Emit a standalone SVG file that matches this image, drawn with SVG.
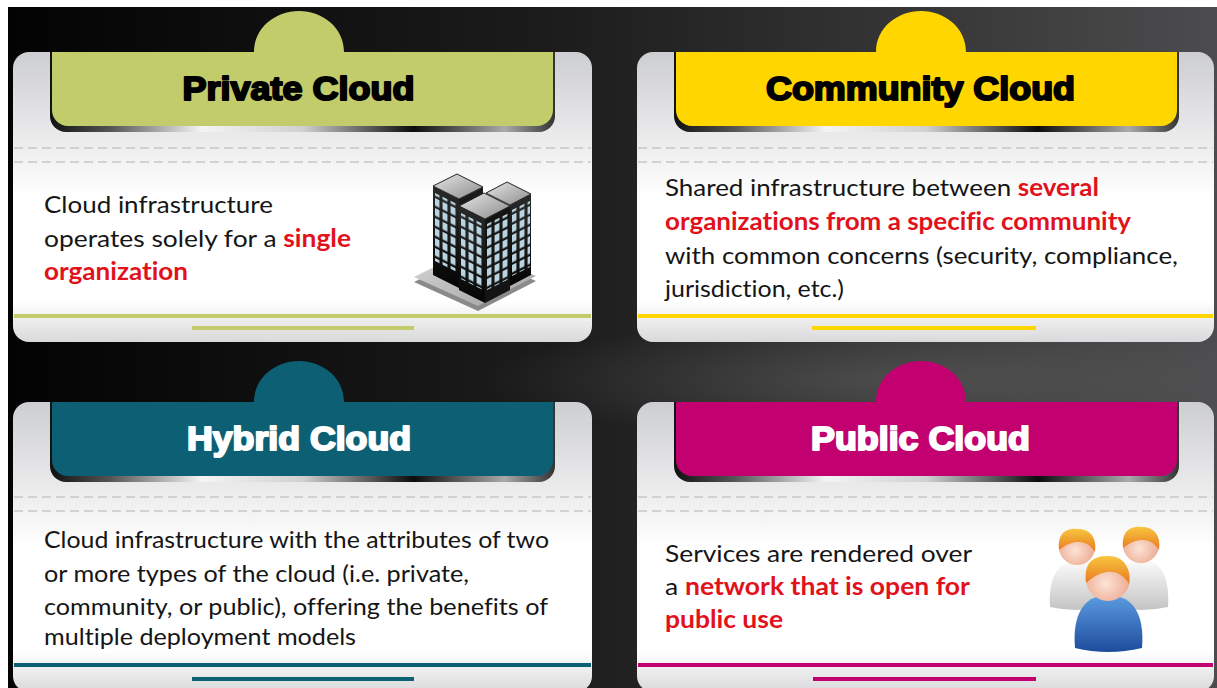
<svg xmlns="http://www.w3.org/2000/svg" width="1217" height="688" viewBox="0 0 1217 688">
  <defs>
    <linearGradient id="bg" x1="0" y1="0" x2="1" y2="0">
      <stop offset="0" stop-color="#030303"/>
      <stop offset="0.45" stop-color="#1c1c1c"/>
      <stop offset="1" stop-color="#4c4c4e"/>
    </linearGradient>
    <radialGradient id="haze" cx="0.5" cy="0.5" r="0.5">
      <stop offset="0" stop-color="#6a6a6a" stop-opacity="0.45"/>
      <stop offset="1" stop-color="#6a6a6a" stop-opacity="0"/>
    </radialGradient>
    <linearGradient id="cardFill" x1="0" y1="0" x2="0" y2="1">
      <stop offset="0" stop-color="#cdced1"/>
      <stop offset="0.33" stop-color="#eeeeef"/>
      <stop offset="0.5" stop-color="#ffffff"/>
      <stop offset="0.86" stop-color="#ffffff"/>
      <stop offset="1" stop-color="#d9d9db"/>
    </linearGradient>
    <linearGradient id="tabShadow" x1="0" y1="0" x2="1" y2="0">
      <stop offset="0" stop-color="#111"/>
      <stop offset="0.12" stop-color="#555"/>
      <stop offset="0.3" stop-color="#f4f4f4"/>
      <stop offset="0.5" stop-color="#d0d0d0"/>
      <stop offset="0.72" stop-color="#0c0c0c"/>
      <stop offset="0.9" stop-color="#aaa"/>
      <stop offset="1" stop-color="#333"/>
    </linearGradient>
    <linearGradient id="roofFill" x1="0" y1="0" x2="1" y2="1">
      <stop offset="0" stop-color="#e6e6e6"/>
      <stop offset="1" stop-color="#8c8c8c"/>
    </linearGradient>
    <linearGradient id="wallDark" x1="0" y1="0" x2="0" y2="1">
      <stop offset="0" stop-color="#2a2a2a"/>
      <stop offset="1" stop-color="#050505"/>
    </linearGradient>
    <linearGradient id="plateFill" x1="0" y1="0" x2="1" y2="1">
      <stop offset="0" stop-color="#d8d8d8"/>
      <stop offset="1" stop-color="#a0a0a0"/>
    </linearGradient>
    <pattern id="win" width="8" height="10" patternUnits="userSpaceOnUse">
      <rect x="1.5" y="1" width="5" height="7.5" fill="#b9d4de"/>
    </pattern>
    <radialGradient id="skin" cx="0.45" cy="0.6" r="0.6">
      <stop offset="0" stop-color="#fde3d6"/>
      <stop offset="1" stop-color="#eaa58c"/>
    </radialGradient>
    <linearGradient id="hair" x1="0" y1="0" x2="0" y2="1">
      <stop offset="0" stop-color="#f8c640"/>
      <stop offset="1" stop-color="#e8781e"/>
    </linearGradient>
    <linearGradient id="shirtWhite" x1="0" y1="0" x2="0" y2="1">
      <stop offset="0" stop-color="#fafafa"/>
      <stop offset="1" stop-color="#c4c4c4"/>
    </linearGradient>
    <linearGradient id="shirtBlue" x1="0" y1="0" x2="0" y2="1">
      <stop offset="0" stop-color="#5b9be0"/>
      <stop offset="1" stop-color="#1d4c9c"/>
    </linearGradient>
    <style>
      .card { fill: url(#cardFill); }
      .dash { stroke: #c8c8c8; stroke-width: 1.5; stroke-dasharray: 9 5; fill: none; }
      .shadow { fill: url(#tabShadow); }
      .title { font-family: "Liberation Sans", Arial, sans-serif; font-weight: bold; font-size: 33px; text-anchor: middle; stroke-width: 2; stroke-linejoin: round; }
      .body { font-family: Lato, "Open Sans", sans-serif; font-size: 24px; fill: #151515; font-variant-ligatures: none; font-feature-settings: "liga" 0, "clig" 0; }
      .hl { fill: #e1121b; font-weight: bold; }
    </style>
  </defs>

  <!-- backdrop -->
  <rect x="0" y="0" width="1217" height="688" fill="#ffffff"/>
  <rect x="8" y="7" width="1209" height="681" fill="url(#bg)"/>
  <ellipse cx="900" cy="380" rx="420" ry="60" fill="url(#haze)"/>

  <!-- Private Cloud -->
  <g id="private-cloud">
    <rect class="card" x="13" y="52" width="579" height="290" rx="16"/>
    <path class="shadow" d="M50,52 H555 V116 a16,16 0 0 1 -16,16 H66 a16,16 0 0 1 -16,-16 Z"/>
    <path fill="#c3cc6a" d="M52,52 H254 C254,28 275,11 299,11 C323,11 344,28 344,52 H553 V110 a16,16 0 0 1 -16,16 H68 a16,16 0 0 1 -16,-16 Z"/>
    <text class="title" x="298.5" y="100" fill="#000" stroke="#000" textLength="232" lengthAdjust="spacingAndGlyphs">Private Cloud</text>
    <line class="dash" x1="14" y1="148" x2="591" y2="148"/>
    <line class="dash" x1="14" y1="162" x2="591" y2="162"/>
    <text class="body" x="44" y="213" textLength="229" lengthAdjust="spacingAndGlyphs">Cloud infrastructure</text>
    <text class="body" x="44" y="247" textLength="307" lengthAdjust="spacingAndGlyphs">operates solely for a <tspan class="hl">single</tspan></text>
    <text class="body hl" x="44" y="280" textLength="144" lengthAdjust="spacingAndGlyphs">organization</text>
    <!-- office towers -->
    <g id="building">
      <polygon points="414,282 472,253 536,281 478,311" fill="#8a8a8a"/>
      <polygon points="414,277 472,248 536,276 478,306" fill="url(#plateFill)"/>
      <!-- back left tower -->
      <polygon points="433,186 459,199 459,288 433,275" fill="url(#wallDark)"/>
      <g transform="matrix(1,0.5,0,1,433,186)"><rect x="2" y="6" width="22" height="68" fill="url(#win)"/></g>
      <polygon points="459,199 483,187 483,260 459,272" fill="#1a1a1a"/>
      <polygon points="433,186 457,174 483,187 459,199" fill="url(#roofFill)" stroke="#222" stroke-width="1"/>
      <!-- back right tower -->
      <polygon points="510,205 531,194 531,275 510,286" fill="url(#wallDark)"/>
      <g transform="matrix(1,-0.5,0,1,510,205)"><rect x="2" y="6" width="18" height="66" fill="url(#win)"/></g>
      <polygon points="486,193 507,182 531,194 510,205" fill="url(#roofFill)" stroke="#222" stroke-width="1"/>
      <!-- front tower -->
      <polygon points="459,206 485,219 485,303 459,290" fill="url(#wallDark)"/>
      <g transform="matrix(1,0.5,0,1,459,206)"><rect x="2" y="6" width="22" height="66" fill="url(#win)"/></g>
      <polygon points="485,219 510,206 510,290 485,303" fill="#141414"/>
      <g transform="matrix(1,-0.5,0,1,485,219)"><rect x="2" y="6" width="22" height="66" fill="url(#win)"/></g>
      <polygon points="459,206 484,193 510,206 485,219" fill="url(#roofFill)" stroke="#222" stroke-width="1"/>
    </g>
    <rect x="14" y="314" width="577" height="4" fill="#c3cc6a"/>
    <rect x="192" y="326" width="222" height="4" fill="#c3cc6a"/>
  </g>

  <!-- Community Cloud -->
  <g id="community-cloud">
    <rect class="card" x="637" y="52" width="577" height="290" rx="16"/>
    <path class="shadow" d="M674,52 H1179 V116 a16,16 0 0 1 -16,16 H690 a16,16 0 0 1 -16,-16 Z"/>
    <path fill="#ffd600" d="M676,52 H876 C876,28 897,11 921,11 C945,11 966,28 966,52 H1177 V110 a16,16 0 0 1 -16,16 H692 a16,16 0 0 1 -16,-16 Z"/>
    <text class="title" x="920.5" y="100" fill="#000" stroke="#000" textLength="309" lengthAdjust="spacingAndGlyphs">Community Cloud</text>
    <line class="dash" x1="638" y1="148" x2="1213" y2="148"/>
    <line class="dash" x1="638" y1="162" x2="1213" y2="162"/>
    <text class="body" x="665" y="196" textLength="434" lengthAdjust="spacingAndGlyphs">Shared infrastructure between <tspan class="hl">several</tspan></text>
    <text class="body hl" x="665" y="230" textLength="466" lengthAdjust="spacingAndGlyphs">organizations from a specific community</text>
    <text class="body" x="665" y="264" textLength="513" lengthAdjust="spacingAndGlyphs">with common concerns (security, compliance,</text>
    <text class="body" x="665" y="297" textLength="179" lengthAdjust="spacingAndGlyphs">jurisdiction, etc.)</text>
    <rect x="638" y="314" width="575" height="4" fill="#ffd600"/>
    <rect x="812" y="326" width="224" height="4" fill="#ffd600"/>
  </g>

  <!-- Hybrid Cloud -->
  <g id="hybrid-cloud">
    <rect class="card" x="13" y="402" width="579" height="290" rx="16"/>
    <path class="shadow" d="M50,402 H555 V466 a16,16 0 0 1 -16,16 H66 a16,16 0 0 1 -16,-16 Z"/>
    <path fill="#0d5f74" d="M52,402 H254 C254,378 275,361 299,361 C323,361 344,378 344,402 H553 V460 a16,16 0 0 1 -16,16 H68 a16,16 0 0 1 -16,-16 Z"/>
    <text class="title" x="299" y="450" fill="#fff" stroke="#fff" textLength="224" lengthAdjust="spacingAndGlyphs">Hybrid Cloud</text>
    <line class="dash" x1="14" y1="497" x2="591" y2="497"/>
    <line class="dash" x1="14" y1="511" x2="591" y2="511"/>
    <text class="body" x="44" y="548" textLength="505" lengthAdjust="spacingAndGlyphs">Cloud infrastructure with the attributes of two</text>
    <text class="body" x="44" y="582" textLength="425" lengthAdjust="spacingAndGlyphs">or more types of the cloud (i.e. private,</text>
    <text class="body" x="44" y="615" textLength="504" lengthAdjust="spacingAndGlyphs">community, or public), offering the benefits of</text>
    <text class="body" x="44" y="645" textLength="312" lengthAdjust="spacingAndGlyphs">multiple deployment models</text>
    <rect x="14" y="663" width="577" height="4" fill="#0d5f74"/>
    <rect x="192" y="677" width="222" height="4" fill="#0d5f74"/>
  </g>

  <!-- Public Cloud -->
  <g id="public-cloud">
    <rect class="card" x="637" y="402" width="577" height="290" rx="16"/>
    <path class="shadow" d="M674,402 H1179 V466 a16,16 0 0 1 -16,16 H690 a16,16 0 0 1 -16,-16 Z"/>
    <path fill="#c2006f" d="M676,402 H876 C876,378 897,361 921,361 C945,361 966,378 966,402 H1177 V460 a16,16 0 0 1 -16,16 H692 a16,16 0 0 1 -16,-16 Z"/>
    <text class="title" x="920.5" y="450" fill="#fff" stroke="#fff" textLength="219" lengthAdjust="spacingAndGlyphs">Public Cloud</text>
    <line class="dash" x1="638" y1="497" x2="1213" y2="497"/>
    <line class="dash" x1="638" y1="511" x2="1213" y2="511"/>
    <text class="body" x="665" y="562" textLength="307" lengthAdjust="spacingAndGlyphs">Services are rendered over</text>
    <text class="body" x="665" y="595" textLength="305" lengthAdjust="spacingAndGlyphs">a <tspan class="hl">network that is open for</tspan></text>
    <text class="body hl" x="665" y="628" textLength="118" lengthAdjust="spacingAndGlyphs">public use</text>
    <!-- group of users -->
    <g id="users">
      <path d="M1050,607 C1048,578 1058,562 1074,562 L1080,562 C1096,562 1104,578 1102,607 Q1076,613 1050,607 Z" fill="url(#shirtWhite)"/>
      <circle cx="1077" cy="547" r="18" fill="url(#skin)"/>
      <path d="M1059,550 C1057,530 1070,528 1078,529 C1092,529 1097,540 1095,552 C1088,540 1074,538 1059,550 Z" fill="url(#hair)"/>
      <path d="M1115,607 C1113,578 1123,561 1139,561 L1145,561 C1161,561 1170,578 1168,607 Q1141,613 1115,607 Z" fill="url(#shirtWhite)"/>
      <circle cx="1141" cy="545" r="18" fill="url(#skin)"/>
      <path d="M1123,548 C1121,528 1134,526 1142,527 C1156,527 1161,538 1159,550 C1152,538 1138,536 1123,548 Z" fill="url(#hair)"/>
      <path d="M1075,648 C1072,614 1085,596 1104,596 L1112,596 C1132,596 1145,614 1142,648 Q1108,656 1075,648 Z" fill="url(#shirtBlue)"/>
      <circle cx="1108" cy="579" r="22" fill="url(#skin)"/>
      <path d="M1086,583 C1083,558 1098,556 1108,556 C1125,556 1131,569 1129,584 C1120,569 1104,567 1086,583 Z" fill="url(#hair)"/>
    </g>
    <rect x="638" y="663" width="575" height="4" fill="#c2006f"/>
    <rect x="813" y="677" width="223" height="4" fill="#c2006f"/>
  </g>
</svg>
